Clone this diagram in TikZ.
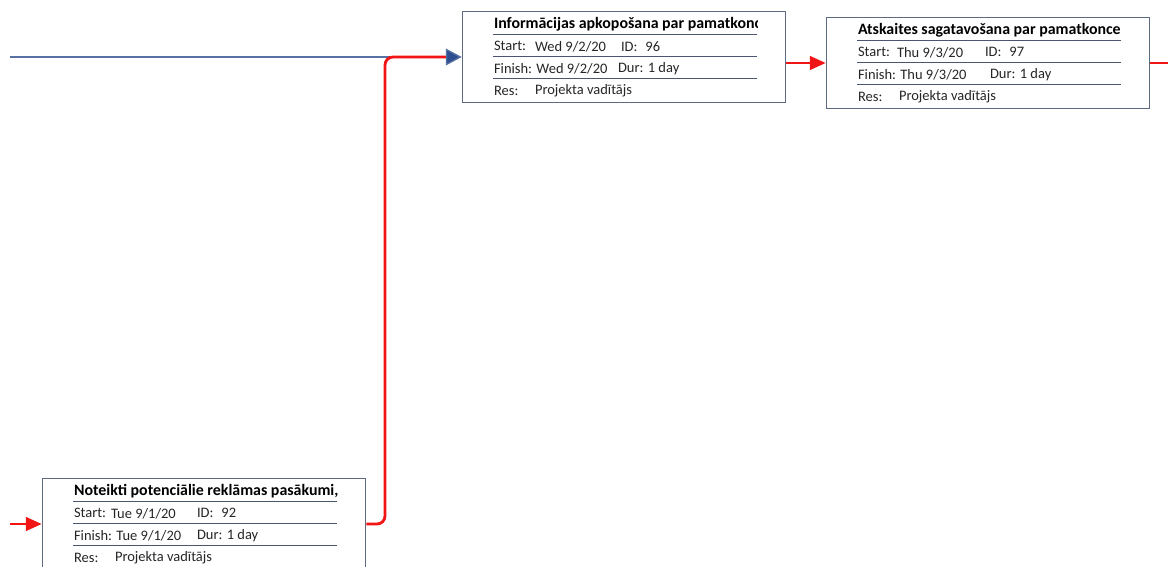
\documentclass[tikz,border=0pt]{standalone}
\usepackage{fontspec}
\setmainfont{Carlito}
\usetikzlibrary{arrows.meta, positioning, calc}

\definecolor{boxline}{HTML}{5E6A82}
\definecolor{rowline}{HTML}{4A5670}
\definecolor{linkblue}{HTML}{2E4E8F}
\definecolor{linkred}{HTML}{F21515}

\tikzset{
  taskbox/.style={draw=boxline, line width=1pt, fill=white,
    minimum width=8.075cm, minimum height=2.275cm, inner sep=0pt},
  rowsep/.style={draw=rowline, line width=1pt},
  cell/.style={anchor=west, inner sep=0pt, text=black!85,
    font=\fontsize{10.3}{12}\selectfont},
  headcell/.style={cell, text=black, font=\fontsize{11.3}{13}\selectfont\bfseries},
  critlink/.style={draw=linkred, line width=2pt,
    -{Triangle[length=0.4cm,width=0.34cm]}},
  bluelink/.style={draw=linkblue!80, line width=0.9pt,
    -{Triangle[length=0.4cm,width=0.42cm,fill=linkblue]}},
}

% rows of one task card, placed from the corner of its box
% #7 start value, #8 ID field, #9 Dur field (x offsets)
\newcommand{\taskrows}[9]{%
  \begin{scope}
    \clip ($(#1.north west)+(28,2)$) rectangle ($(#1.north west)+(296,24)$);
    \node[headcell] at ($(#1.north west)+(32,13.5)$) {#2};
  \end{scope}
  \draw[rowsep] ($(#1.north west)+(31,24)$) -- ++(264,0);
  \node[cell] at ($(#1.north west)+(32,35.5)$) {Start:};
  \node[cell] at ($(#1.north west)+(#7,35.5)$) {#3};
  \node[cell] at ($(#1.north west)+(#8,35.5)$) {ID:\hspace{0.55em}#4};
  \draw[rowsep] ($(#1.north west)+(31,46)$) -- ++(264,0);
  \node[cell] at ($(#1.north west)+(32,58)$) {Finish: #5};
  \node[cell] at ($(#1.north west)+(#9,58)$) {Dur: #6};
  \draw[rowsep] ($(#1.north west)+(31,68)$) -- ++(264,0);
  \node[cell] at ($(#1.north west)+(32,80)$) {Res:};
  \node[cell] at ($(#1.north west)+(73,80)$) {Projekta vadītājs};
}

\begin{document}
\begin{tikzpicture}[x=0.025cm, y=-0.025cm]
\useasboundingbox (0,0) rectangle (1168,566);
\clip (0,0) rectangle (1168,566);

% task boxes
\node[taskbox] (t92) at (204,524) {};
\node[taskbox] (t96) at (624,57) {};
\node[taskbox] (t97) at (988,63) {};

\taskrows{t92}{Noteikti potenciālie reklāmas pasākumi,}{Tue 9/1/20}{92}{Tue 9/1/20}{1 day}{69}{155}{155}
\taskrows{t96}{Informācijas apkopošana par pamatkonc}{Wed 9/2/20}{96}{Wed 9/2/20}{1 day}{73}{159}{156}
\taskrows{t97}{Atskaites sagatavošana par pamatkonce}{Thu 9/3/20}{97}{Thu 9/3/20}{1 day}{71}{159}{164}

% loose ends
\coordinate (inblue) at (10,57);
\coordinate (inred) at (10,524);
\coordinate (outred) at (1168,63);
\coordinate (bend) at (385,57);

% links
\draw[bluelink] (inblue) -- (t96.west);
\draw[critlink, -, rounded corners=0.2cm, shorten >=0.4cm] (t92.east) -| (bend) -- (t96.west);
\draw[critlink] (t96.east |- t97.west) -- (t97.west);
\draw[critlink, -] (t97.east) -- (outred);
\draw[critlink] (inred) -- (t92.west);
\end{tikzpicture}
\end{document}
